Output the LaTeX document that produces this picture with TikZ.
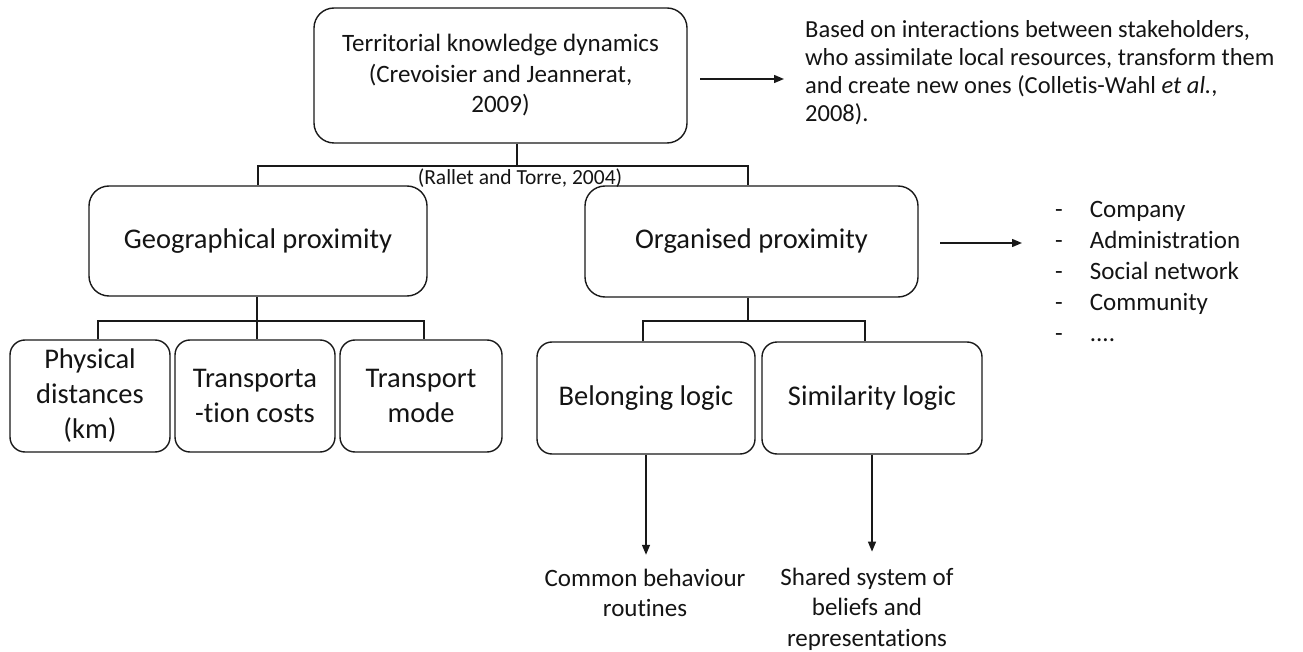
\documentclass[tikz,border=0pt]{standalone}
\usepackage{fontspec}
\setmainfont{Carlito}[RawFeature={-liga}]
\usetikzlibrary{arrows.meta,calc}
\begin{document}
\begin{tikzpicture}[x=1pt,y=-1pt,
  box/.style={draw=black!90, line width=1.4pt, rounded corners=20pt, align=center, inner sep=0pt},
  sbox/.style={draw=black!90, line width=1.4pt, rounded corners=15pt, align=center, inner sep=0pt, minimum height=112},
  conn/.style={draw=black!90, line width=1.4pt},
  arr/.style={draw=black!90, line width=1.4pt, -{Triangle[length=10pt,width=8pt]}},
  txt/.style={inner sep=0pt, align=center, text=black!92},
  big/.style={font=\fontsize{28.5}{35}\selectfont, text=black!92},
  mid/.style={font=\fontsize{25}{30.5}\selectfont, text=black!92}]
\useasboundingbox (0,0) rectangle (1303,652);

% boxes
\node[box, mid, minimum width=373, minimum height=135] (top) at (500.5,75.5)
  {Territorial knowledge dynamics\\(Crevoisier and Jeannerat,\\2009)};
\node[box, big, minimum width=338, minimum height=110] (geo) at (258,241) {Geographical proximity};
\node[box, big, minimum width=333, minimum height=111] (org) at (751.5,241.5) {Organised proximity};
\node[sbox, big, minimum width=160] (phys) at (90,396) {Physical\\distances\\(km)};
\node[sbox, big, minimum width=160] (trans) at (255,396) {Transporta\\-tion costs};
\node[sbox, big, minimum width=162] (mode) at (421,396) {Transport\\mode};
\node[sbox, big, minimum width=218] (belong) at (646,398) {Belonging logic};
\node[sbox, big, minimum width=220] (simil) at (872,398) {Similarity logic};

% texts
\node[txt, font=\fontsize{21.5}{26}\selectfont] (rt) at (520,178) {(Rallet and Torre, 2004)};
\node[txt, anchor=west, align=left, font=\fontsize{24.5}{28}\selectfont] (desc) at (805,73)
  {Based on interactions between stakeholders,\\who assimilate local resources, transform them\\and create new ones (Colletis-Wahl \textit{et al.},\\2008).};
\node[txt, anchor=west, font=\fontsize{25}{31}\selectfont] (list) at (1055,273)
  {\begin{tabular}{@{}l@{\hspace{27pt}}l@{}}
   - & Company\\ - & Administration\\ - & Social network\\ - & Community\\ - & ....
   \end{tabular}};
\node[txt, mid] (cb) at (645,593) {Common behaviour\\routines};
\node[txt, mid] (ss) at (867,609) {Shared system of\\beliefs and\\representations};

% top connectors
\coordinate (tj) at (517,166);
\coordinate (ojt) at (748,166);
\draw[conn] (top.south -| tj) -- (tj);
\draw[conn] (geo.north) |- (ojt) -- (ojt |- org.north);

% geographical connectors
\coordinate (gj) at (257,321);
\coordinate (pj) at (98,321);
\coordinate (mj) at (424,321);
\draw[conn] (gj |- geo.south) -- (gj);
\draw[conn] (pj |- phys.north) -- (pj) -- (mj) -- (mj |- mode.north);
\draw[conn] (gj) -- (gj |- trans.north);

% organised connectors
\coordinate (oj) at (748,321);
\coordinate (bj) at (643,321);
\coordinate (sj) at (865,321);
\draw[conn] (oj |- org.south) -- (oj);
\draw[conn] (bj |- belong.north) -- (bj) -- (sj) -- (sj |- simil.north);

% arrows
\coordinate (a1) at (700,79);
\draw[arr, shorten >=21pt] (a1) -- (a1 -| desc.west);
\coordinate (a2) at (940,243);
\draw[arr, shorten >=33pt] (a2) -- (a2 -| list.west);
\draw[arr] (belong.south) -- ($(belong.south |- cb.north)+(0,-14)$);
\draw[arr] (simil.south) -- ($(simil.south |- ss.north)+(0,-16)$);
\end{tikzpicture}
\end{document}
